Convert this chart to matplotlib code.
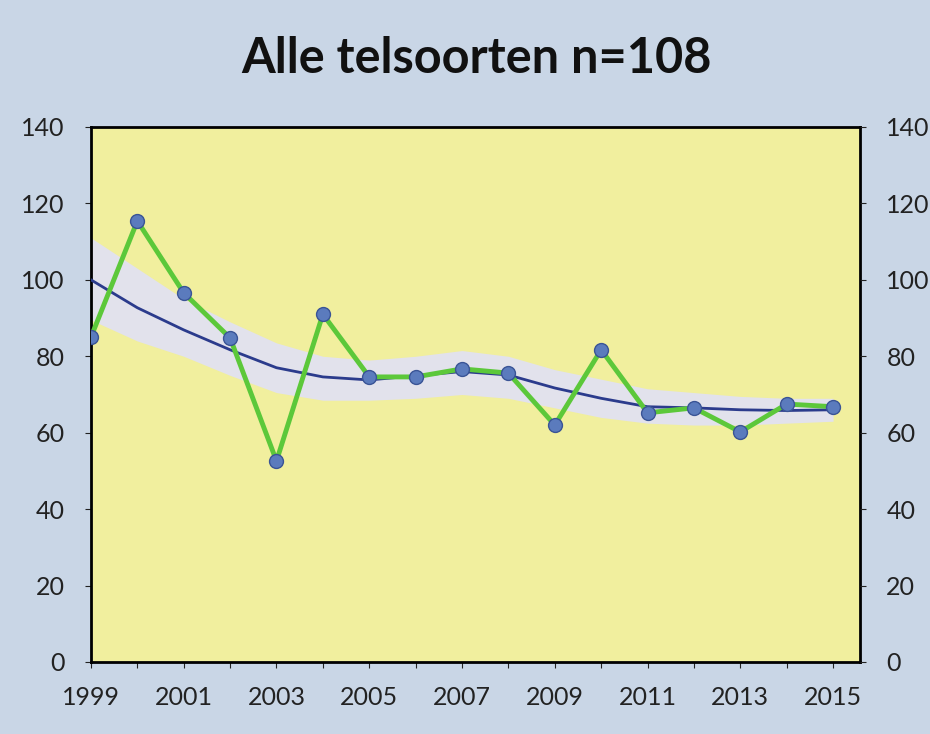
import matplotlib
matplotlib.use("Agg")
from matplotlib import pyplot as plt

# data
years = list(range(1999, 2016))
index = [85, 115.4, 96.6, 84.8, 52.6, 91, 74.6, 74.6, 76.7, 75.6, 62, 81.7, 65.2, 66.5, 60.2, 67.5, 66.8]
trend = [100, 92.7, 86.9, 81.7, 77, 74.6, 73.8, 74.9, 76, 75.1, 71.7, 69, 66.8, 66.5, 66, 65.8, 66]
upper = [111, 103, 95, 89, 83.5, 80, 79, 80, 81.5, 80, 76.5, 74, 71.5, 70.5, 69.5, 69, 69]
lower = [89.5, 84, 80, 75, 70.5, 68.5, 68.5, 69, 70, 69, 66.5, 64, 62.5, 62, 62, 62.5, 63]
yticks = [0, 20, 40, 60, 80, 100, 120, 140]
title = "Alle telsoorten n=108"

plt.rcParams['font.family'] = ['Lato', 'DejaVu Sans']

fig = plt.figure(figsize=(9.3, 7.34), dpi=100)
fig.patch.set_facecolor('#c9d6e6')
ax = fig.add_axes([0.0978, 0.0981, 0.8269, 0.7289])
ax.set_facecolor('#f1ef9e')

ax.fill_between(years, lower, upper, color='#e2e2ec', lw=0, zorder=2)
ax.plot(years, trend, color='#2b3b8c', lw=2, zorder=3)
ax.plot(years, index, color='#5cc83a', lw=3.5, marker='o', ms=10,
        mfc='#5b7bbd', mec='#3a5496', mew=1, zorder=4)

ax.set_xlim(1999, 2015.58)
ax.set_ylim(0, 140)
ax.set_yticks(yticks)
ax.set_xticks(years)
ax.set_xticklabels([str(y) if y % 2 == 1 else '' for y in years])

for s in ax.spines.values():
    s.set_color('black')
    s.set_linewidth(2)

ax.tick_params(axis='y', length=4, pad=15, labelsize=18, colors='#222222')
ax.tick_params(axis='x', length=4, pad=13, labelsize=18, colors='#222222')

ax2 = ax.twinx()
ax2.set_ylim(0, 140)
ax2.set_yticks(yticks)
ax2.tick_params(axis='y', length=4, pad=15, labelsize=18, colors='#222222')
for s in ax2.spines.values():
    s.set_visible(False)

fig.text(0.512, 0.92, title, ha='center', va='center', fontsize=35,
         fontweight='bold', color='#111111')

fig.savefig('out.png', dpi=100, facecolor=fig.get_facecolor())
